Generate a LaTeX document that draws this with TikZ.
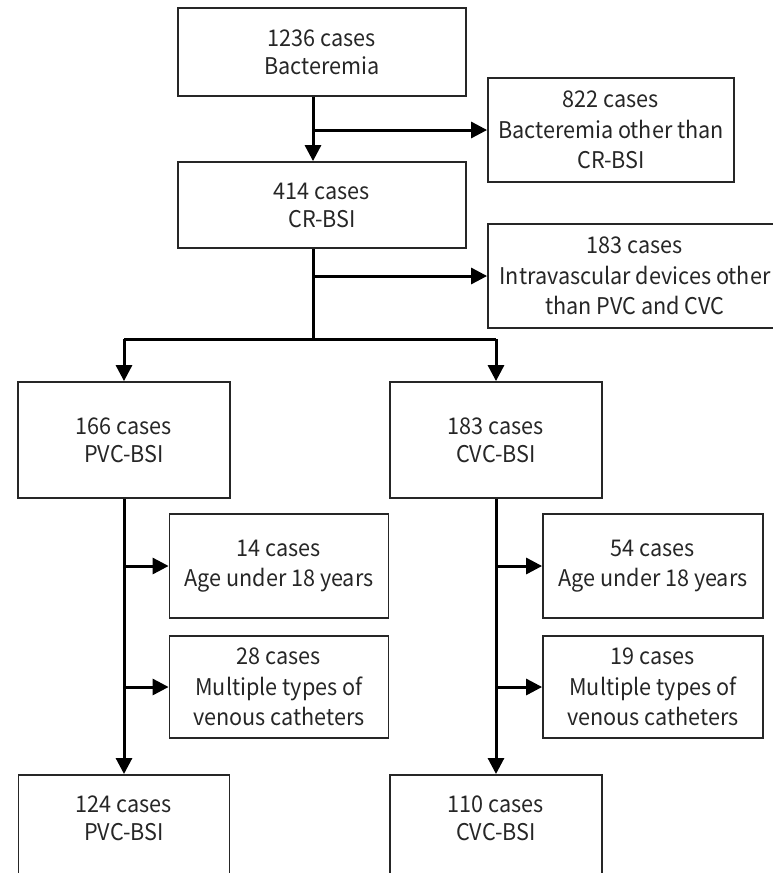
\documentclass[tikz,border=0pt]{standalone}
\usepackage{fontspec}
\setmainfont[FakeStretch=0.94]{Noto Sans CJK JP}
\usetikzlibrary{arrows.meta}
\begin{document}
\begin{tikzpicture}[x=1pt,y=-1pt,
  box/.style={draw=black!85, line width=1.8pt, align=center, inner sep=0pt, text=black!85,
    font=\fontsize{23}{30.5}\selectfont},
  twoline/.style={font=\fontsize{23}{28}\selectfont},
  conn/.style={line width=3pt, black},
  arr/.style={conn, -{Triangle[length=16pt,width=16pt]}}]
\useasboundingbox (0,0) rectangle (773,873);
\clip (0,0) rectangle (773,873);
% top part
\node[box, twoline, minimum width=288, minimum height=88] (b1) at (322,52) {1236 cases\\Bacteremia};
\node[box, minimum width=246, minimum height=104] (b822) at (611,130) {822 cases\\Bacteremia other than\\CR-BSI};
\node[box, twoline, minimum width=288, minimum height=86] (b414) at (322,205) {414 cases\\CR-BSI};
\node[box, minimum width=294, minimum height=104] (b183o) at (635,276) {183 cases\\Intravascular devices other\\than PVC and CVC};
\coordinate (s1) at (313,0);
\coordinate (j) at (0,339);
% middle
\node[box, twoline, minimum width=212, minimum height=116] (pvc) at (124,440) {166 cases\\PVC-BSI};
\node[box, twoline, minimum width=212, minimum height=116] (cvc) at (496,440) {183 cases\\CVC-BSI};
\node[box, minimum width=219, minimum height=104] (b14) at (279,566) {14 cases\\Age under 18 years};
\node[box, minimum width=219, minimum height=102] (b28) at (279,687) {28 cases\\Multiple types of\\venous catheters};
\node[box, minimum width=220, minimum height=104] (b54) at (653,566) {54 cases\\Age under 18 years};
\node[box, minimum width=220, minimum height=102] (b19) at (653,687) {19 cases\\Multiple types of\\venous catheters};
% bottom (cut by the page)
\node[box, twoline, minimum width=211, anchor=north, inner ysep=21pt] (b124) at (124,774) {124 cases\\PVC-BSI\\[60pt]\mbox{}};
\node[box, twoline, minimum width=212, anchor=north, inner ysep=21pt] (b110) at (496,774) {110 cases\\CVC-BSI\\[60pt]\mbox{}};
% connectors
\draw[arr] (b1.south -| s1) -- (b414.north -| s1);
\draw[arr] (s1 |- b822.west) -- (b822.west);
\draw[conn] (b414.south -| s1) -- (s1 |- j);
\draw[arr] (s1 |- b183o.west) -- (b183o.west);
\draw[conn] (pvc.north |- j) -- (cvc.north |- j);
\draw[arr] (pvc.north |- j) -- (pvc.north);
\draw[arr] (cvc.north |- j) -- (cvc.north);
\draw[arr] (pvc.south) -- (b124.north);
\draw[arr] (pvc.south |- b14.west) -- (b14.west);
\draw[arr] (pvc.south |- b28.west) -- (b28.west);
\draw[arr] (cvc.south) -- (b110.north);
\draw[arr] (cvc.south |- b54.west) -- (b54.west);
\draw[arr] (cvc.south |- b19.west) -- (b19.west);
\end{tikzpicture}
\end{document}
